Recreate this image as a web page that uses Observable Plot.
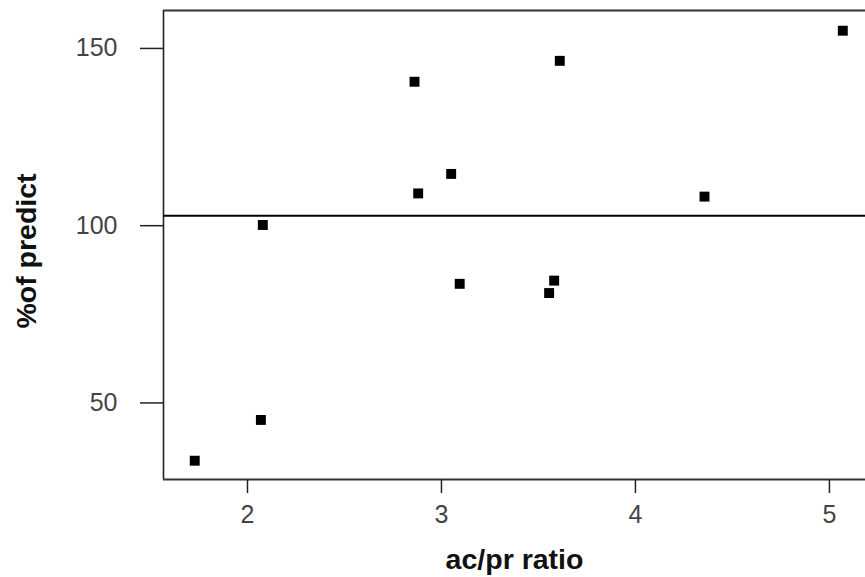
<!DOCTYPE html>
<html>
<head>
<meta charset="utf-8">
<script src="https://cdn.jsdelivr.net/npm/d3@7"></script>
<script src="https://cdn.jsdelivr.net/npm/@observablehq/plot@0.6"></script>
<style>
  html, body { margin: 0; padding: 0; background: #fff; }
  #chart svg { display: block; }
</style>
</head>
<body>
<div id="chart"></div>
<script>
// Data
const ratio   = [1.728, 2.069, 2.079, 2.861, 2.880, 3.050, 3.094, 3.555, 3.581, 3.610, 4.356, 5.069];
const predict = [33.7, 45.2, 100.2, 140.6, 109.1, 114.6, 83.6, 81.0, 84.5, 146.5, 108.2, 155.0];
const refLine = 102.8;
const xTicks = [2, 3, 4, 5];
const yTicks = [50, 100, 150];
const xDomain = [1.567, 5.186];
const yDomain = [28.4, 160.7];
const xLabel = "ac/pr ratio";
const yLabel = "%of predict";

const points = ratio.map((r, i) => ({ratio: r, predict: predict[i]}));

const font = "Liberation Sans, Arial, sans-serif";

const chart = Plot.plot({
  width: 865,
  height: 577,
  marginTop: 10,
  marginBottom: 98,
  marginLeft: 163,
  marginRight: 0,
  style: { fontFamily: font, background: "#fff", overflow: "visible" },
  x: { domain: xDomain },
  y: { domain: yDomain },
  marks: [
    // frame (left, top, bottom)
    Plot.ruleX([xDomain[0]], { stroke: "#222", strokeWidth: 1.6 }),
    Plot.ruleY([yDomain[0], yDomain[1]], { stroke: "#333", strokeWidth: 1.8 }),
    // axes
    Plot.axisX({ ticks: xTicks, tickSize: 14, tickPadding: 12, fontSize: 25, stroke: "#222", strokeWidth: 1.5, fill: "#444", label: null, tickFormat: d => String(d) }),
    Plot.axisY({ ticks: yTicks, tickSize: 23, tickPadding: 23, fontSize: 25, stroke: "#222", strokeWidth: 1.5, fill: "#444", label: null, tickFormat: d => String(d) }),
    // reference line
    Plot.ruleY([refLine], { stroke: "#000", strokeWidth: 2 }),
    // points
    Plot.dot(points, { x: "ratio", y: "predict", symbol: "square", r: 5.6, fill: "#000", stroke: "none" }),
    // axis labels
    Plot.text([xLabel], { text: d => d, frameAnchor: "bottom", textAnchor: "middle", dy: 89, fontSize: 28.5, fontWeight: "bold", fill: "#111" }),
    Plot.text([yLabel], { text: d => d, frameAnchor: "left", textAnchor: "middle", dx: -137, dy: 6, rotate: -90, fontSize: 28.5, fontWeight: "bold", fill: "#111" })
  ]
});

document.getElementById("chart").appendChild(chart);
</script>
</body>
</html>
